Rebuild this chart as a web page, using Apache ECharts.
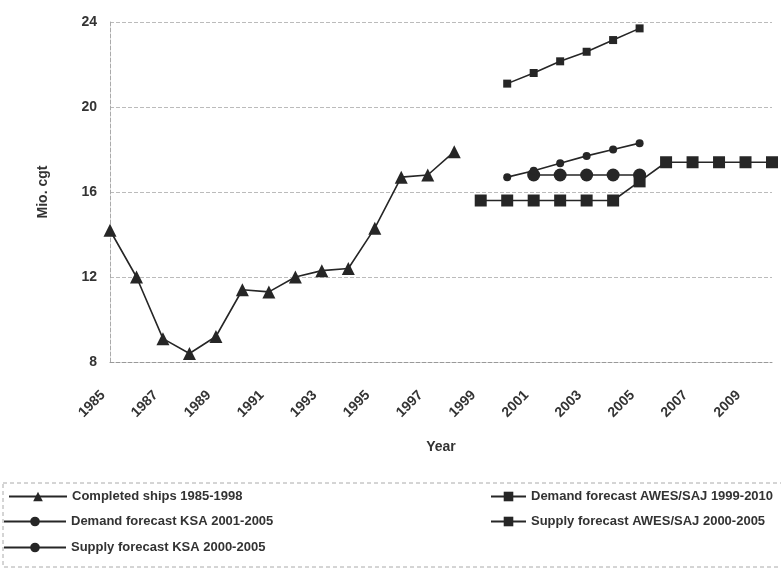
<!DOCTYPE html>
<html>
<head>
<meta charset="utf-8">
<script src="https://cdn.jsdelivr.net/npm/echarts@6/dist/echarts.min.js"></script>
<style>html,body{margin:0;padding:0;background:#fff}#c{width:781px;height:571px}</style>
</head>
<body>
<div id="c"></div>
<script>
var years = ['1985','1986','1987','1988','1989','1990','1991','1992','1993','1994','1995','1996','1997','1998','1999','2000','2001','2002','2003','2004','2005','2006','2007','2008','2009','2010'];
var yTicks = [8, 12, 16, 20, 24];
var completedShips = [14.2,12.0,9.1,8.4,9.2,11.4,11.3,12.0,12.3,12.4,14.3,16.7,16.8,17.9,null,null,null,null,null,null,null,null,null,null,null,null];
var demandAWES = [null,null,null,null,null,null,null,null,null,null,null,null,null,null,15.6,15.6,15.6,15.6,15.6,15.6,16.5,17.4,17.4,17.4,17.4,17.4];
var demandKSA = [null,null,null,null,null,null,null,null,null,null,null,null,null,null,null,null,16.8,16.8,16.8,16.8,16.8,null,null,null,null,null];
var supplyAWES = [null,null,null,null,null,null,null,null,null,null,null,null,null,null,null,21.1,21.6,22.15,22.6,23.15,23.7,null,null,null,null,null];
var supplyKSA = [null,null,null,null,null,null,null,null,null,null,null,null,null,null,null,16.7,17.0,17.35,17.7,18.0,18.3,null,null,null,null,null];

var names = ['Completed ships 1985-1998','Demand forecast AWES/SAJ 1999-2010','Demand forecast KSA 2001-2005','Supply forecast AWES/SAJ 2000-2005','Supply forecast KSA 2000-2005'];
var ink = '#262626';
var font = 'Liberation Sans, Arial, sans-serif';
function ser(name, data, symbol, size, z) {
  return {name: name, type: 'line', data: data, symbol: symbol, symbolSize: size, z: z,
    connectNulls: false, showAllSymbol: true,
    lineStyle: {color: ink, width: 1.6}, itemStyle: {color: ink, borderWidth: 0}};
}
function leg(name, left, top, w) {
  return {data: [name], left: left, top: top, itemWidth: w, itemHeight: 12, itemGap: 2, padding: 0,
    textStyle: {fontFamily: font, fontWeight: 'bold', fontSize: 13, color: '#333'}};
}
var chart = echarts.init(document.getElementById('c'), null, {renderer: 'canvas'});
chart.setOption({
  animation: false,
  backgroundColor: '#fff',
  grid: {left: 110, right: 9, top: 22, bottom: 209},
  xAxis: {type: 'category', data: years, boundaryGap: false,
    name: 'Year', nameLocation: 'middle', nameGap: 78,
    nameTextStyle: {fontFamily: font, fontWeight: 'bold', fontSize: 14, color: '#333'},
    axisLine: {lineStyle: {color: '#999', type: 'dashed', width: 1}},
    axisTick: {show: false},
    axisLabel: {interval: 1, rotate: 45, margin: 24, padding: [0, 10, 0, 0], fontFamily: font, fontWeight: 'bold', fontSize: 14, color: '#333'}
  },
  yAxis: {type: 'value', min: yTicks[0], max: yTicks[yTicks.length-1], interval: 4,
    name: 'Mio. cgt', nameLocation: 'middle', nameGap: 60, nameRotate: 90,
    nameTextStyle: {fontFamily: font, fontWeight: 'bold', fontSize: 14, color: '#333'},
    axisLine: {show: true, lineStyle: {color: '#aaa', type: 'dashed', width: 1}},
    axisTick: {show: false},
    axisLabel: {margin: 13, fontFamily: font, fontWeight: 'bold', fontSize: 14, color: '#333'},
    splitLine: {lineStyle: {color: '#bbb', type: 'dashed', width: 1}}
  },
  legend: [
    leg(names[0], 8, 490, 58),
    leg(names[1], 490, 490, 35),
    leg(names[2], 3, 515, 62),
    leg(names[3], 490, 515, 35),
    leg(names[4], 3, 541, 62)
  ],
  graphic: [{type: 'rect', shape: {x: 3, y: 483, width: 790, height: 84},
    style: {fill: 'none', stroke: '#aaa', lineWidth: 1, lineDash: [4, 3]}, silent: true}],
  series: [
    ser(names[0], completedShips, 'triangle', 13, 3),
    ser(names[1], demandAWES, 'rect', 12, 2),
    ser(names[2], demandKSA, 'circle', 13, 4),
    ser(names[3], supplyAWES, 'rect', 8, 3),
    ser(names[4], supplyKSA, 'circle', 8, 5)
  ]
});
</script>
</body>
</html>
